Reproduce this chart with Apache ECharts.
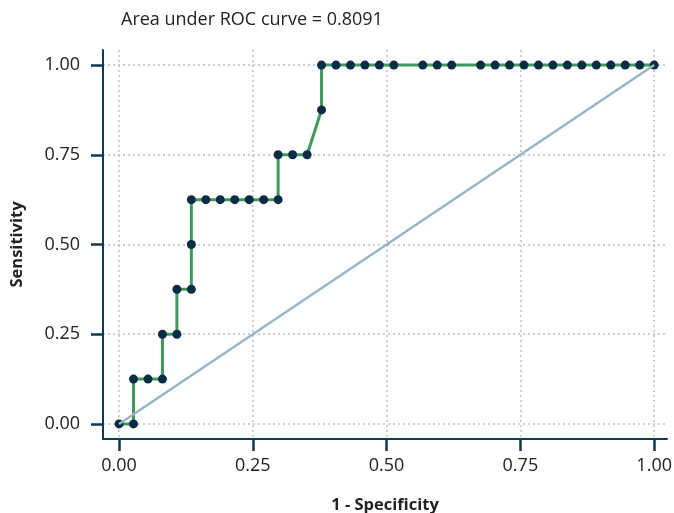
<!DOCTYPE html>
<html><head><meta charset="utf-8">
<script src="https://cdn.jsdelivr.net/npm/echarts@6/dist/echarts.min.js"></script>
<style>html,body{margin:0;padding:0;background:#fff}#c{width:674px;height:513px}</style>
</head><body><div id="c"></div>
<script>
const titleText = 'Area under ROC curve = 0.8091';
const xName = '1 - Specificity';
const yName = 'Sensitivity';
const tickValues = [0, 0.25, 0.5, 0.75, 1];
const fpr = [0, 0.0270, 0.0270, 0.0541, 0.0811, 0.0811, 0.1081, 0.1081, 0.1351, 0.1351, 0.1351,
  0.1622, 0.1892, 0.2162, 0.2432, 0.2703, 0.2973, 0.2973, 0.3243, 0.3514, 0.3784, 0.3784,
  0.4054, 0.4324, 0.4595, 0.4865, 0.5135, 0.5676, 0.5946, 0.6216, 0.6757, 0.7027, 0.7297,
  0.7568, 0.7838, 0.8108, 0.8378, 0.8649, 0.8919, 0.9189, 0.9459, 0.9730, 1];
const tpr = [0, 0, 0.125, 0.125, 0.125, 0.25, 0.25, 0.375, 0.375, 0.5, 0.625,
  0.625, 0.625, 0.625, 0.625, 0.625, 0.625, 0.75, 0.75, 0.75, 0.875, 1,
  1, 1, 1, 1, 1, 1, 1, 1, 1, 1, 1,
  1, 1, 1, 1, 1, 1, 1, 1, 1, 1];
const refX = [0, 1];
const refY = [0, 1];

const font = 'Open Sans';
const chart = echarts.init(document.getElementById('c'));
const axisCommon = {
  type: 'value',
  nameLocation: 'middle',
  nameTextStyle: {fontFamily: font, fontSize: 16.5, fontWeight: 'bold', color: '#222'},
  axisLine: {show: true, onZero: false, lineStyle: {color: '#0e3a52', width: 2}},
  axisTick: {show: true, inside: false, length: 12, customValues: tickValues,
    lineStyle: {color: '#0e3a52', width: 2.5}},
  axisLabel: {customValues: tickValues, fontFamily: font, fontSize: 18, color: '#222',
    formatter: v => v.toFixed(2)},
  splitLine: {show: true, lineStyle: {color: '#bcc0cb', type: [2, 3], width: 1.5}}
};
chart.setOption({
  animation: false,
  title: {text: titleText, left: 116, top: 6,
    textStyle: {fontFamily: font, fontSize: 18, fontWeight: 'normal', color: '#222'}},
  grid: {left: 103, right: 7, top: 50, bottom: 74, outerBoundsMode: 'none', containLabel: false},
  xAxis: Object.assign({}, axisCommon, {min: -0.03, max: 1.024, name: xName, nameGap: 58,
    axisLabel: Object.assign({}, axisCommon.axisLabel, {margin: 18})}),
  yAxis: Object.assign({}, axisCommon, {min: -0.042, max: 1.042, name: yName, nameGap: 77,
    axisLabel: Object.assign({}, axisCommon.axisLabel, {margin: 23})}),
  series: [
    {type: 'line', data: refX.map((x, i) => [x, refY[i]]), showSymbol: false, silent: true,
      lineStyle: {color: '#98b5c8', width: 2.5}, z: 3},
    {type: 'line', data: fpr.map((x, i) => [x, tpr[i]]), symbol: 'circle', symbolSize: 9,
      itemStyle: {color: '#0a2c45'}, lineStyle: {color: '#3e9a5c', width: 3}, z: 2}
  ]
});
</script></body></html>
